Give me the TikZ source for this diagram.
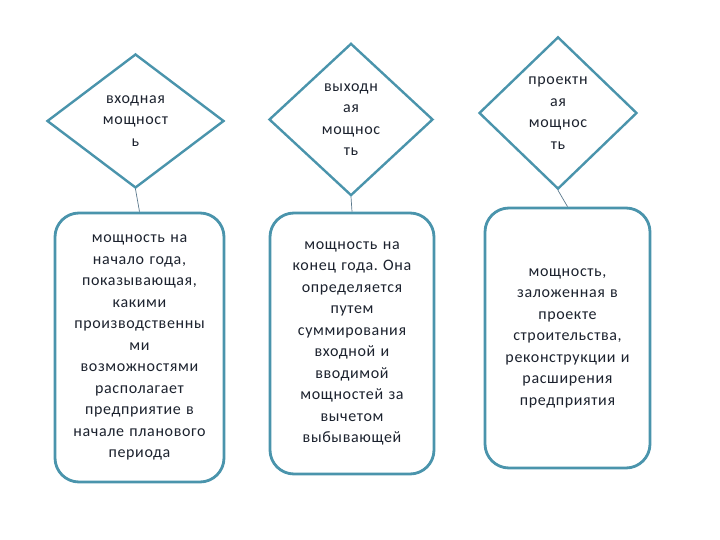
\documentclass[tikz,border=0pt]{standalone}
\usepackage{fontspec}
\setmainfont[LetterSpace=4]{Carlito}
\usetikzlibrary{shapes.geometric}
\definecolor{edge}{RGB}{74,148,172}
\definecolor{ink}{RGB}{28,34,46}
\definecolor{wire}{RGB}{90,120,140}
\tikzset{
  dia/.style={diamond, draw=edge, line width=2.4pt, fill=white, inner sep=0pt,
    text width=80pt, align=center, text=ink, font=\fontsize{16}{21.5}\selectfont},
  rbox/.style={draw=edge, line width=2.8pt, fill=white, rounded corners=24pt,
    inner sep=0pt, text width=160pt, align=center, text=ink,
    font=\fontsize{16}{21.5}\selectfont},
  wirel/.style={draw=wire, line width=0.7pt}
}
\frenchspacing
\begin{document}
\begin{tikzpicture}[x=1pt,y=-1pt]
\useasboundingbox (0,0) rectangle (720,540);
\node[dia, minimum width=177pt, minimum height=134pt] (d1) at (135.5,121) {входная\\мощност\\ь};
\node[dia, minimum width=164pt, minimum height=129pt] (d2) at (351,119.5) {выходн\\ая\\мощнос\\ть};
\node[dia, minimum width=158pt, minimum height=130pt] (d3) at (558,113) {проектн\\ая\\мощнос\\ть};
\node[rbox, minimum width=169pt, minimum height=269pt] (b1) at (139.5,347.5) {мощность на\\начало года,\\показывающая,\\какими\\производственны\\ми\\возможностями\\располагает\\предприятие в\\начале планового\\периода};
\node[rbox, minimum width=164pt, minimum height=261pt] (b2) at (352,343.5) {мощность на\\конец года. Она\\определяется\\путем\\суммирования\\входной и\\вводимой\\мощностей за\\вычетом\\выбывающей};
\node[rbox, minimum width=165pt, minimum height=260pt] (b3) at (567.5,338) {мощность,\\заложенная в\\проекте\\строительства,\\реконструкции и\\расширения\\предприятия};
\draw[wirel] (d1.south) -- (b1.north);
\draw[wirel] (d2.south) -- (b2.north);
\draw[wirel] (d3.south) -- (b3.north);
\end{tikzpicture}
\end{document}
